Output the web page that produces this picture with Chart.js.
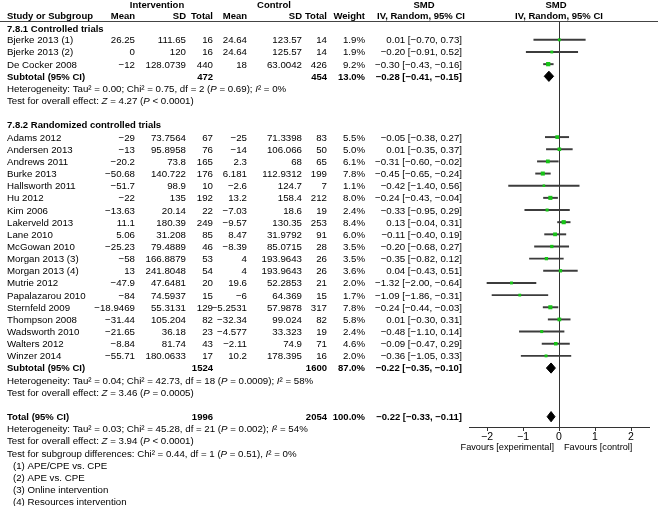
<!DOCTYPE html>
<html><head><meta charset="utf-8">
<script src="https://cdn.jsdelivr.net/npm/chart.js@4/dist/chart.umd.min.js"></script>
<style>html,body{margin:0;padding:0;background:#fff;overflow:hidden}</style>
</head><body>
<canvas id="c" width="658" height="506" style="width:658px;height:506px;display:block"></canvas>
<script>
// ---------- data ----------
const studies = ['Bjerke 2013 (1)','Bjerke 2013 (2)','De Cocker 2008',
  'Adams 2012','Andersen 2013','Andrews 2011','Burke 2013','Hallsworth 2011','Hu 2012','Kim 2006',
  'Lakerveld 2013','Lane 2010','McGowan 2010','Morgan 2013 (3)','Morgan 2013 (4)','Mutrie 2012',
  'Papalazarou 2010','Sternfeld 2009','Thompson 2008','Wadsworth 2010','Walters 2012','Winzer 2014'];
const intMean = [26.25,0,-12,-29,-13,-20.2,-50.68,-51.7,-22,-13.63,11.1,5.06,-25.23,-58,13,-47.9,-84,-18.9469,-31.44,-21.65,-8.84,-55.71];
const intSD = [111.65,120,128.0739,73.7564,95.8958,73.8,140.722,98.9,135,20.14,180.39,31.208,79.4889,166.8879,241.8048,47.6481,74.5937,55.3131,105.204,36.18,81.74,180.0633];
const intTotal = [16,16,440,67,76,165,176,10,192,22,249,85,46,53,54,20,15,129,82,23,43,17];
const ctlMean = [24.64,24.64,18,-25,-14,2.3,6.181,-2.6,13.2,-7.03,-9.57,8.47,-8.39,4,4,19.6,-6,-5.2531,-32.34,-4.577,-2.11,10.2];
const ctlSD = [123.57,125.57,63.0042,71.3398,106.066,68,112.9312,124.7,158.4,18.6,130.35,31.9792,85.0715,193.9643,193.9643,52.2853,64.369,57.9878,99.024,33.323,74.9,178.395];
const ctlTotal = [14,14,426,83,50,65,199,7,212,19,253,91,28,26,26,21,15,317,82,19,71,16];
const weight = [1.9,1.9,9.2,5.5,5.0,6.1,7.8,1.1,8.0,2.4,8.4,6.0,3.5,3.5,3.6,2.0,1.7,7.8,5.8,2.4,4.6,2.0];
const smd = [0.01,-0.20,-0.30,-0.05,0.01,-0.31,-0.45,-0.42,-0.24,-0.33,0.13,-0.11,-0.20,-0.35,0.04,-1.32,-1.09,-0.24,0.01,-0.48,-0.09,-0.36];
const ciLo = [-0.70,-0.91,-0.43,-0.38,-0.35,-0.60,-0.65,-1.40,-0.43,-0.95,-0.04,-0.40,-0.68,-0.82,-0.43,-2.00,-1.86,-0.44,-0.30,-1.10,-0.47,-1.05];
const ciHi = [0.73,0.52,-0.16,0.27,0.37,-0.02,-0.24,0.56,-0.04,0.29,0.31,0.19,0.27,0.12,0.51,-0.64,-0.31,-0.03,0.31,0.14,0.29,0.33];

const summaryLabels = ['Subtotal (95% CI)','Subtotal (95% CI)','Total (95% CI)'];
const summaryIntTotal = [472,1524,1996];
const summaryCtlTotal = [454,1600,2054];
const summaryWeight = [13.0,87.0,100.0];
const summarySmd = [-0.28,-0.22,-0.22];
const summaryLo = [-0.41,-0.35,-0.33];
const summaryHi = [-0.15,-0.10,-0.11];

const groupTitles = ['7.8.1 Controlled trials','7.8.2 Randomized controlled trials'];
const statLines1 = ['Heterogeneity: Tau² = 0.00; Chi² = 0.75, df = 2 (|P| = 0.69); |I|² = 0%','Test for overall effect: |Z| = 4.27 (|P| < 0.0001)'];
const statLines2 = ['Heterogeneity: Tau² = 0.04; Chi² = 42.73, df = 18 (|P| = 0.0009); |I|² = 58%','Test for overall effect: |Z| = 3.46 (|P| = 0.0005)'];
const statLinesT = ['Heterogeneity: Tau² = 0.03; Chi² = 45.28, df = 21 (|P| = 0.002); |I|² = 54%','Test for overall effect: |Z| = 3.94 (|P| < 0.0001)','Test for subgroup differences: Chi² = 0.44, df = 1 (|P| = 0.51), |I|² = 0%'];
const footnotes = ['(1) APE/CPE vs. CPE','(2) APE vs. CPE','(3) Online intervention','(4) Resources intervention'];
const xTicks = [-2,-1,0,1,2];
const favours = ['Favours [experimental]','Favours [control]'];

// ---------- layout helpers ----------
const rowOf = i => i < 3 ? i : i + 5;
const summaryRows = [3,27,31];
const FONT = '"Liberation Sans", Arial, Helvetica, sans-serif';
const REG = 9.7, BOLD = 9.5;
const cols = {name:7, intMean:135, intSD:186, intTot:213, ctlMean:247, ctlSD:302, ctlTot:327, weight:365, ci:462};
const minus = v => String(v).replace('-', '\u2212');
const f2 = v => v.toFixed(2).replace('-', '\u2212');
const ciText = (e,l,h) => `${f2(e)} [${f2(l)}, ${f2(h)}]`;

function rich(ctx, s, x, y, size, bold) {
  let cx = x;
  s.split('|').forEach((p, k) => {
    ctx.font = `${k % 2 ? 'italic ' : ''}${bold ? 'bold ' : ''}${size}px ${FONT}`;
    ctx.fillText(p, cx, y);
    cx += ctx.measureText(p).width;
  });
}
function txt(ctx, s, x, y, align, bold) {
  ctx.font = `${bold ? 'bold ' : ''}${bold ? BOLD : REG}px ${FONT}`;
  ctx.textAlign = align;
  ctx.fillText(s, x, y);
}

const tablePlugin = {
  id: 'table',
  afterDraw(chart) {
    const ctx = chart.ctx, ys = chart.scales.y, xs = chart.scales.x;
    const Y = r => ys.getPixelForValue(r) + 0.8;
    ctx.save();
    ctx.fillStyle = '#000';
    ctx.textBaseline = 'middle';
    // header rule
    ctx.strokeStyle = '#444'; ctx.lineWidth = 1;
    ctx.beginPath(); ctx.moveTo(0, chart.chartArea.top + 0.5); ctx.lineTo(chart.width, chart.chartArea.top + 0.5); ctx.stroke();
    // headers
    const h1 = Y(-2.92), h2 = Y(-2.0);
    txt(ctx, 'Intervention', 157, h1, 'center', true);
    txt(ctx, 'Control', 274, h1, 'center', true);
    txt(ctx, 'SMD', 424, h1, 'center', true);
    txt(ctx, 'SMD', 556, h1, 'center', true);
    txt(ctx, 'Study or Subgroup', cols.name, h2, 'left', true);
    txt(ctx, 'Mean', cols.intMean, h2, 'right', true);
    txt(ctx, 'SD', cols.intSD, h2, 'right', true);
    txt(ctx, 'Total', cols.intTot, h2, 'right', true);
    txt(ctx, 'Mean', cols.ctlMean, h2, 'right', true);
    txt(ctx, 'SD', cols.ctlSD, h2, 'right', true);
    txt(ctx, 'Total', cols.ctlTot, h2, 'right', true);
    txt(ctx, 'Weight', cols.weight, h2, 'right', true);
    txt(ctx, 'IV, Random, 95% CI', 421, h2, 'center', true);
    txt(ctx, 'IV, Random, 95% CI', 559, h2, 'center', true);
    // group titles
    txt(ctx, groupTitles[0], cols.name, Y(-0.95), 'left', true);
    txt(ctx, groupTitles[1], cols.name, Y(7), 'left', true);
    // studies
    studies.forEach((s, i) => {
      const y = Y(rowOf(i));
      txt(ctx, s, cols.name, y, 'left', false);
      txt(ctx, minus(intMean[i]), cols.intMean, y, 'right', false);
      txt(ctx, minus(intSD[i]), cols.intSD, y, 'right', false);
      txt(ctx, String(intTotal[i]), cols.intTot, y, 'right', false);
      txt(ctx, minus(ctlMean[i]), cols.ctlMean, y, 'right', false);
      txt(ctx, minus(ctlSD[i]), cols.ctlSD, y, 'right', false);
      txt(ctx, String(ctlTotal[i]), cols.ctlTot, y, 'right', false);
      txt(ctx, weight[i].toFixed(1) + '%', cols.weight, y, 'right', false);
      txt(ctx, ciText(smd[i], ciLo[i], ciHi[i]), cols.ci, y, 'right', false);
    });
    // summaries
    summaryLabels.forEach((s, k) => {
      const y = Y(summaryRows[k]);
      txt(ctx, s, cols.name, y, 'left', true);
      txt(ctx, String(summaryIntTotal[k]), cols.intTot, y, 'right', true);
      txt(ctx, String(summaryCtlTotal[k]), cols.ctlTot, y, 'right', true);
      txt(ctx, summaryWeight[k].toFixed(1) + '%', cols.weight, y, 'right', true);
      txt(ctx, ciText(summarySmd[k], summaryLo[k], summaryHi[k]), cols.ci, y, 'right', true);
    });
    ctx.textAlign = 'left';
    statLines1.forEach((s, k) => rich(ctx, s, cols.name, Y(4 + k), REG, false));
    statLines2.forEach((s, k) => rich(ctx, s, cols.name, Y(28 + k), REG, false));
    statLinesT.forEach((s, k) => rich(ctx, s, cols.name, Y(32 + k), REG, false));
    footnotes.forEach((s, k) => rich(ctx, s, 13, Y(35 + k), REG, false));
    // favours labels
    const x0 = xs.getPixelForValue(0);
    ctx.font = `9.2px ${FONT}`;
    ctx.textAlign = 'right'; ctx.fillText(favours[0], x0 - 5, 447);
    ctx.textAlign = 'left'; ctx.fillText(favours[1], x0 + 5, 447);
    ctx.restore();
  }
};

const diamond = k => ({
  type: 'scatter', showLine: true, fill: 'shape', tension: 0,
  data: [
    {x: summaryLo[k], y: summaryRows[k]},
    {x: summarySmd[k], y: summaryRows[k] - 0.42},
    {x: summaryHi[k], y: summaryRows[k]},
    {x: summarySmd[k], y: summaryRows[k] + 0.42},
    {x: summaryLo[k], y: summaryRows[k]}
  ],
  borderColor: '#000', backgroundColor: '#000', borderWidth: 1, pointRadius: 0, order: 0
});

new Chart(document.getElementById('c'), {
  type: 'scatter',
  data: {
    datasets: [
      { type: 'bar', indexAxis: 'y', order: 3,
        data: studies.map((s, i) => ({x: [ciLo[i], ciHi[i]], y: rowOf(i)})),
        backgroundColor: '#3c3c3c', borderWidth: 0, barThickness: 1.3 },
      { type: 'scatter', order: 1,
        data: studies.map((s, i) => ({x: smd[i], y: rowOf(i)})),
        pointStyle: 'rect', backgroundColor: '#17c417', borderWidth: 0,
        pointRadius: c => 1.2 + 0.6 * Math.sqrt(weight[c.dataIndex] || 1) },
      diamond(0), diamond(1), diamond(2)
    ]
  },
  options: {
    responsive: false, animation: false,
    layout: { padding: { left: 469, right: 9, top: 21, bottom: 59 } },
    plugins: { legend: { display: false }, tooltip: { enabled: false } },
    scales: {
      x: {
        type: 'linear', min: -2.5, max: 2.5,
        afterBuildTicks: s => { s.ticks = xTicks.map(v => ({ value: v })); },
        afterFit: s => { s.height = 20; },
        ticks: { callback: v => minus(v), font: { size: 10.5, family: FONT }, color: '#000', padding: 0, maxRotation: 0, autoSkip: false },
        grid: { color: c => (c.tick && c.tick.value === 0) ? '#333' : 'rgba(0,0,0,0)', tickColor: '#333', tickLength: 4, lineWidth: 1 },
        border: { color: '#333', width: 1 }
      },
      y: { type: 'linear', min: -1.55, max: 31.85, reverse: true, display: false, offset: false }
    }
  },
  plugins: [tablePlugin]
});
</script>
</body></html>
